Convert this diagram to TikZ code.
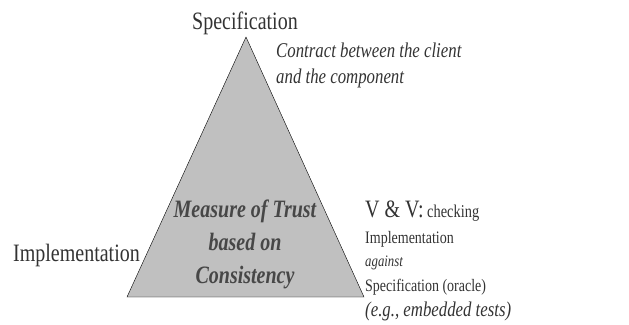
\documentclass[tikz,border=0pt]{standalone}
\usepackage{fontspec}
\setmainfont{Liberation Serif}[FakeStretch=0.8]
\usetikzlibrary{positioning}
\definecolor{inkgray}{HTML}{333333}
\definecolor{triangle}{HTML}{C0C0C0}

\begin{document}
\begin{tikzpicture}
[x=1pt,y=1pt,
corner/.style ={anchor=base, inner sep=0pt, text=inkgray,
font=\fontsize{25}{28}\selectfont},
note/.style ={anchor=base west, inner sep=0pt, text=inkgray,
align=left, font=\itshape\fontsize{21}{26}\selectfont},
trust/.style ={anchor=base, inner sep=0pt, text=inkgray!90,
align=center, font=\bfseries\itshape\fontsize{25}{33}\selectfont},
vv/.style ={anchor=base west, inner sep=0pt, text=inkgray,
font=\fontsize{17.5}{22}\selectfont}]
\useasboundingbox (0,0) rectangle (629,324);
% the triangle
\coordinate (top) at (246,287);
\coordinate (left) at (127,27);
\coordinate (right) at (364,27);
\filldraw [fill=triangle, draw=black, thin] (top) -- (left) -- (right) -- cycle;
% corners
\node [corner] (spec) at (245,294) {Specification};
\node [corner, anchor=base east] (impl) at (140,62) {Implementation};
% contract (base is the last line)
\node [note] (contract) at (276,240) {Contract between the client\\and the component};
% middle
\node [trust] (measure) at (245,40) {Measure of Trust\\based on\\Consistency};
% V & V
\node [vv] (vv) at (365,106) {{\fontsize{25}{28}\selectfont V \& V:} {\fontsize{18}{22}\selectfont checking}};
\node [vv] (vvimpl) at (365,80) {Implementation};
\node [vv, font=\itshape\fontsize{16}{18}\selectfont] (against) at (365,57) {against};
\node [vv] (oracle) at (365,33) {Specification (oracle)};
\node [vv, font=\itshape\fontsize{21}{24}\selectfont] (tests) at (365,8) {(e.g., embedded tests)};
\end{tikzpicture}
\end{document}
